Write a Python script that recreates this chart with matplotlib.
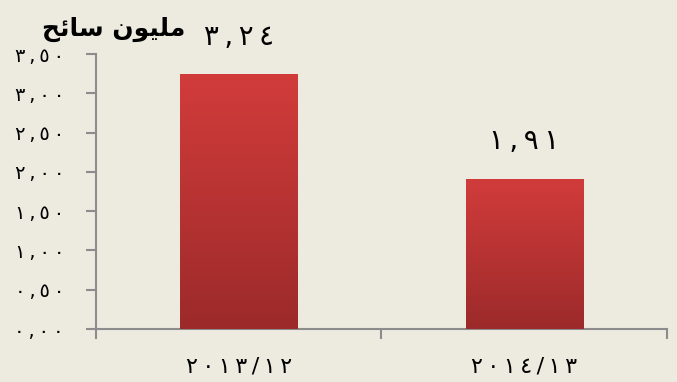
import numpy as np
import matplotlib
matplotlib.use("Agg")
import matplotlib.pyplot as plt
from matplotlib.colors import LinearSegmentedColormap

plt.rcParams["font.family"] = ["DejaVu Sans"]

# data
categories = ["٢٠١٣/١٢", "٢٠١٤/١٣"]
values = [3.24, 1.91]
value_labels = ["٣,٢٤", "١,٩١"]
y_ticks = [0.0, 0.5, 1.0, 1.5, 2.0, 2.5, 3.0, 3.5]
y_tick_labels = ["٠,٠٠", "٠,٥٠", "١,٠٠", "١,٥٠", "٢,٠٠", "٢,٥٠", "٣,٠٠", "٣,٥٠"]
# "مليون سائح" pre-shaped (presentation forms, visual order)
unit_label = "\uFEA2\uFE8B\uFE8E\uFEB3 \uFEE5\uFEEE\uFEF4\uFEE0\uFEE3"

BG = "#EDEBE0"
SPINE = "#8C8C8C"


def spaced(s, gap="\u2009"):
    # the source font sets these digits wide apart
    return gap.join(s)


fig = plt.figure(figsize=(6.77, 3.82), dpi=100, facecolor=BG)
ax = fig.add_axes([0.1418, 0.1387, 0.8434, 0.7199])
ax.set_facecolor(BG)

x = np.arange(len(categories))
bars = ax.bar(x, values, width=0.41, color="#C23636", edgecolor="none", zorder=2)

# vertical gradient on each bar
grad_cmap = LinearSegmentedColormap.from_list("redgrad", ["#9C2A2A", "#B83333", "#D13C3B"])
grad = np.linspace(0, 1, 256).reshape(-1, 1)
for b in bars:
    x0, y0 = b.get_x(), b.get_y()
    w, h = b.get_width(), b.get_height()
    im = ax.imshow(grad, cmap=grad_cmap, origin="lower", aspect="auto",
                   extent=[x0, x0 + w, y0, y0 + h], zorder=3)
    im.set_clip_path(b)

ax.set_xlim(-0.5, len(categories) - 0.5)
ax.set_ylim(0, 3.5)

for b, lab in zip(bars, value_labels):
    ax.annotate(spaced(lab), (b.get_x() + b.get_width() / 2, b.get_height()),
                xytext=(0, 27), textcoords="offset points",
                ha="center", va="center", fontsize=20, color="black")

ax.set_yticks(y_ticks)
ax.set_yticklabels([spaced(t) for t in y_tick_labels], fontsize=14)
ax.set_xticks(x)
ax.set_xticklabels([spaced(c) for c in categories], fontsize=16)
ax.set_xticks(np.arange(-0.5, len(categories)), minor=True)

ax.tick_params(axis="y", direction="out", length=7, width=1.5, color=SPINE, pad=16)
ax.tick_params(axis="x", which="major", length=0, pad=20)
ax.tick_params(axis="x", which="minor", direction="out", length=7, width=1.5, color=SPINE)

for s in ["top", "right"]:
    ax.spines[s].set_visible(False)
for s in ["left", "bottom"]:
    ax.spines[s].set_color(SPINE)
    ax.spines[s].set_linewidth(1.5)

fig.text(0.168, 0.922, unit_label, ha="center", va="center",
         fontsize=18, fontweight="bold", color="black")

fig.savefig("out.png", dpi=100, facecolor=BG)
